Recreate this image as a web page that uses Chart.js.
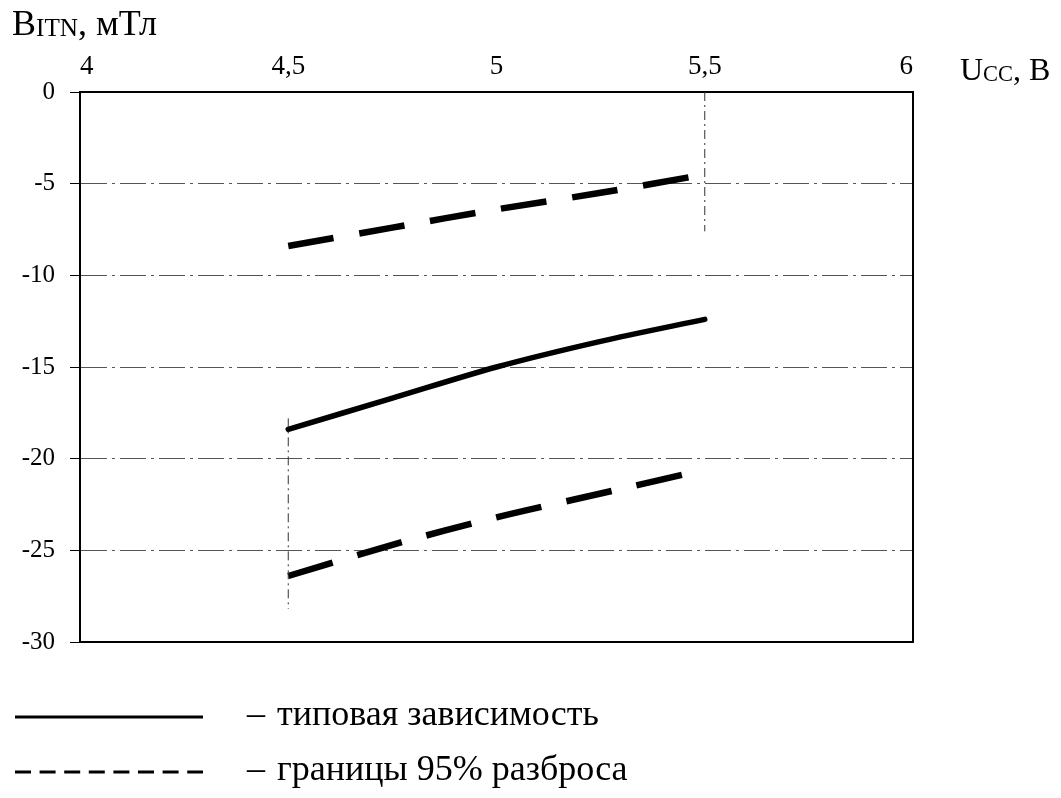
<!DOCTYPE html>
<html lang="ru">
<head>
<meta charset="utf-8">
<title>B_ITN от U_CC</title>
<script src="https://cdn.jsdelivr.net/npm/chart.js@4.4.1/dist/chart.umd.min.js"></script>
<style>
  html, body { margin: 0; padding: 0; background: #fff; }
  body { width: 1061px; height: 798px; position: relative; overflow: hidden;
         font-family: "Liberation Serif", "DejaVu Serif", serif; color: #000; }
  #chart { position: absolute; left: 0; top: 0; }
  .txt { position: absolute; white-space: nowrap; line-height: 1; }
  .sub { font-size: 0.7em; vertical-align: -0.04em; }
  .leg-line { position: absolute; }
</style>
</head>
<body>
<canvas id="chart" width="1061" height="798"></canvas>

<div class="txt" style="left:12px; top:5px; font-size:36px;">B<span class="sub">ITN</span>, мТл</div>
<div class="txt" style="left:960px; top:53px; font-size:32px;">U<span class="sub">CC</span>, В</div>

<svg class="leg-line" style="left:0; top:700px;" width="220" height="90">
  <line x1="15" y1="17" x2="203" y2="17" stroke="#000" stroke-width="3"/>
  <line x1="15" y1="72" x2="203" y2="72" stroke="#000" stroke-width="3" stroke-dasharray="16 8.6"/>
</svg>
<div class="txt" style="left:247px; top:695px; font-size:36px;">–</div>
<div class="txt" style="left:277px; top:695px; font-size:36px;">типовая зависимость</div>
<div class="txt" style="left:247px; top:750px; font-size:36px;">–</div>
<div class="txt" style="left:277px; top:750px; font-size:36px;">границы 95% разброса</div>

<script>
// Supply voltage U_CC, V
const voltage = [4.5, 4.75, 5.0, 5.25, 5.5];
// Typical switching induction B_ITN, mT
const typical = [-18.4, -16.7, -15.0, -13.6, -12.4];
// 95% spread limits, mT
const upperBound = [-8.4, -7.4, -6.4, -5.5, -4.5];
const lowerBound = [-26.4, -24.7, -23.2, -21.9, -20.6];

// Dash-dot guide lines at the ends of the supply range
const guideLow = { x: [4.5, 4.5], y: [-17.8, -28.2] };
const guideHigh = { x: [5.5, 5.5], y: [0, -7.6] };

// Axis ticks
const xTicks = [4, 4.5, 5, 5.5, 6];
const yTicks = [0, -5, -10, -15, -20, -25, -30];

const toPoints = (xs, ys) => xs.map((x, i) => ({ x, y: ys[i] }));

const serif = '"Liberation Serif", "DejaVu Serif", serif';

// Closing frame on the right and bottom of the plot area
const frame = {
  id: 'frame',
  afterDatasetsDraw(chart) {
    const { ctx, chartArea: a } = chart;
    ctx.save();
    ctx.strokeStyle = '#000';
    ctx.lineWidth = 2;
    ctx.beginPath();
    ctx.moveTo(a.left, a.bottom);
    ctx.lineTo(a.right, a.bottom);
    ctx.lineTo(a.right, a.top);
    ctx.stroke();
    ctx.restore();
  }
};

new Chart(document.getElementById('chart'), {
  type: 'line',
  data: {
    datasets: [
      {
        label: 'guide 4,5',
        data: toPoints(guideLow.x, guideLow.y),
        borderColor: '#333', borderWidth: 1, borderDash: [9, 4, 2, 4],
        pointRadius: 0, fill: false
      },
      {
        label: 'guide 5,5',
        data: toPoints(guideHigh.x, guideHigh.y),
        borderColor: '#333', borderWidth: 1, borderDash: [9, 4, 2, 4],
        pointRadius: 0, fill: false
      },
      {
        label: 'типовая зависимость',
        data: toPoints(voltage, typical),
        borderColor: '#000', borderWidth: 5.5, tension: 0.3,
        borderCapStyle: 'round', pointRadius: 0, fill: false
      },
      {
        label: 'граница 95% (верхняя)',
        data: toPoints(voltage, upperBound),
        borderColor: '#000', borderWidth: 6.5, tension: 0.3,
        borderDash: [46, 26], borderCapStyle: 'butt', pointRadius: 0, fill: false
      },
      {
        label: 'граница 95% (нижняя)',
        data: toPoints(voltage, lowerBound),
        borderColor: '#000', borderWidth: 6.5, tension: 0.3,
        borderDash: [46.5, 25.5], borderCapStyle: 'butt', pointRadius: 0, fill: false
      }
    ]
  },
  options: {
    responsive: false,
    animation: false,
    devicePixelRatio: 1,
    layout: { padding: { left: 0, top: 0, right: 148, bottom: 156 } },
    plugins: { legend: { display: false }, tooltip: { enabled: false } },
    scales: {
      x: {
        type: 'linear',
        position: 'top',
        min: 4, max: 6,
        afterBuildTicks: (s) => { s.ticks = xTicks.map(v => ({ value: v })); },
        afterFit: (s) => { s.height = 92; },
        grid: { drawOnChartArea: false, drawTicks: false },
        border: { display: true, color: '#000', width: 2 },
        ticks: {
          align: 'inner',
          padding: 9,
          color: '#000',
          font: { family: serif, size: 27 },
          callback: (v) => String(v).replace('.', ',')
        }
      },
      y: {
        type: 'linear',
        position: 'left',
        min: -30, max: 0,
        afterBuildTicks: (s) => { s.ticks = yTicks.map(v => ({ value: v })); },
        afterFit: (s) => { s.width = 80; },
        grid: {
          drawOnChartArea: true,
          drawTicks: true,
          tickLength: 10,
          tickColor: '#000',
          tickWidth: 1,
          lineWidth: 1,
          color: (c) => (c.tick && (c.tick.value === 0 || c.tick.value === -30)) ? 'rgba(0,0,0,0)' : '#555'
        },
        border: { display: true, color: '#000', width: 2, dash: [26, 5, 3, 5] },
        ticks: {
          padding: 15,
          color: '#000',
          font: { family: serif, size: 25 },
          callback: (v) => String(v)
        }
      }
    }
  },
  plugins: [frame]
});
</script>
</body>
</html>
